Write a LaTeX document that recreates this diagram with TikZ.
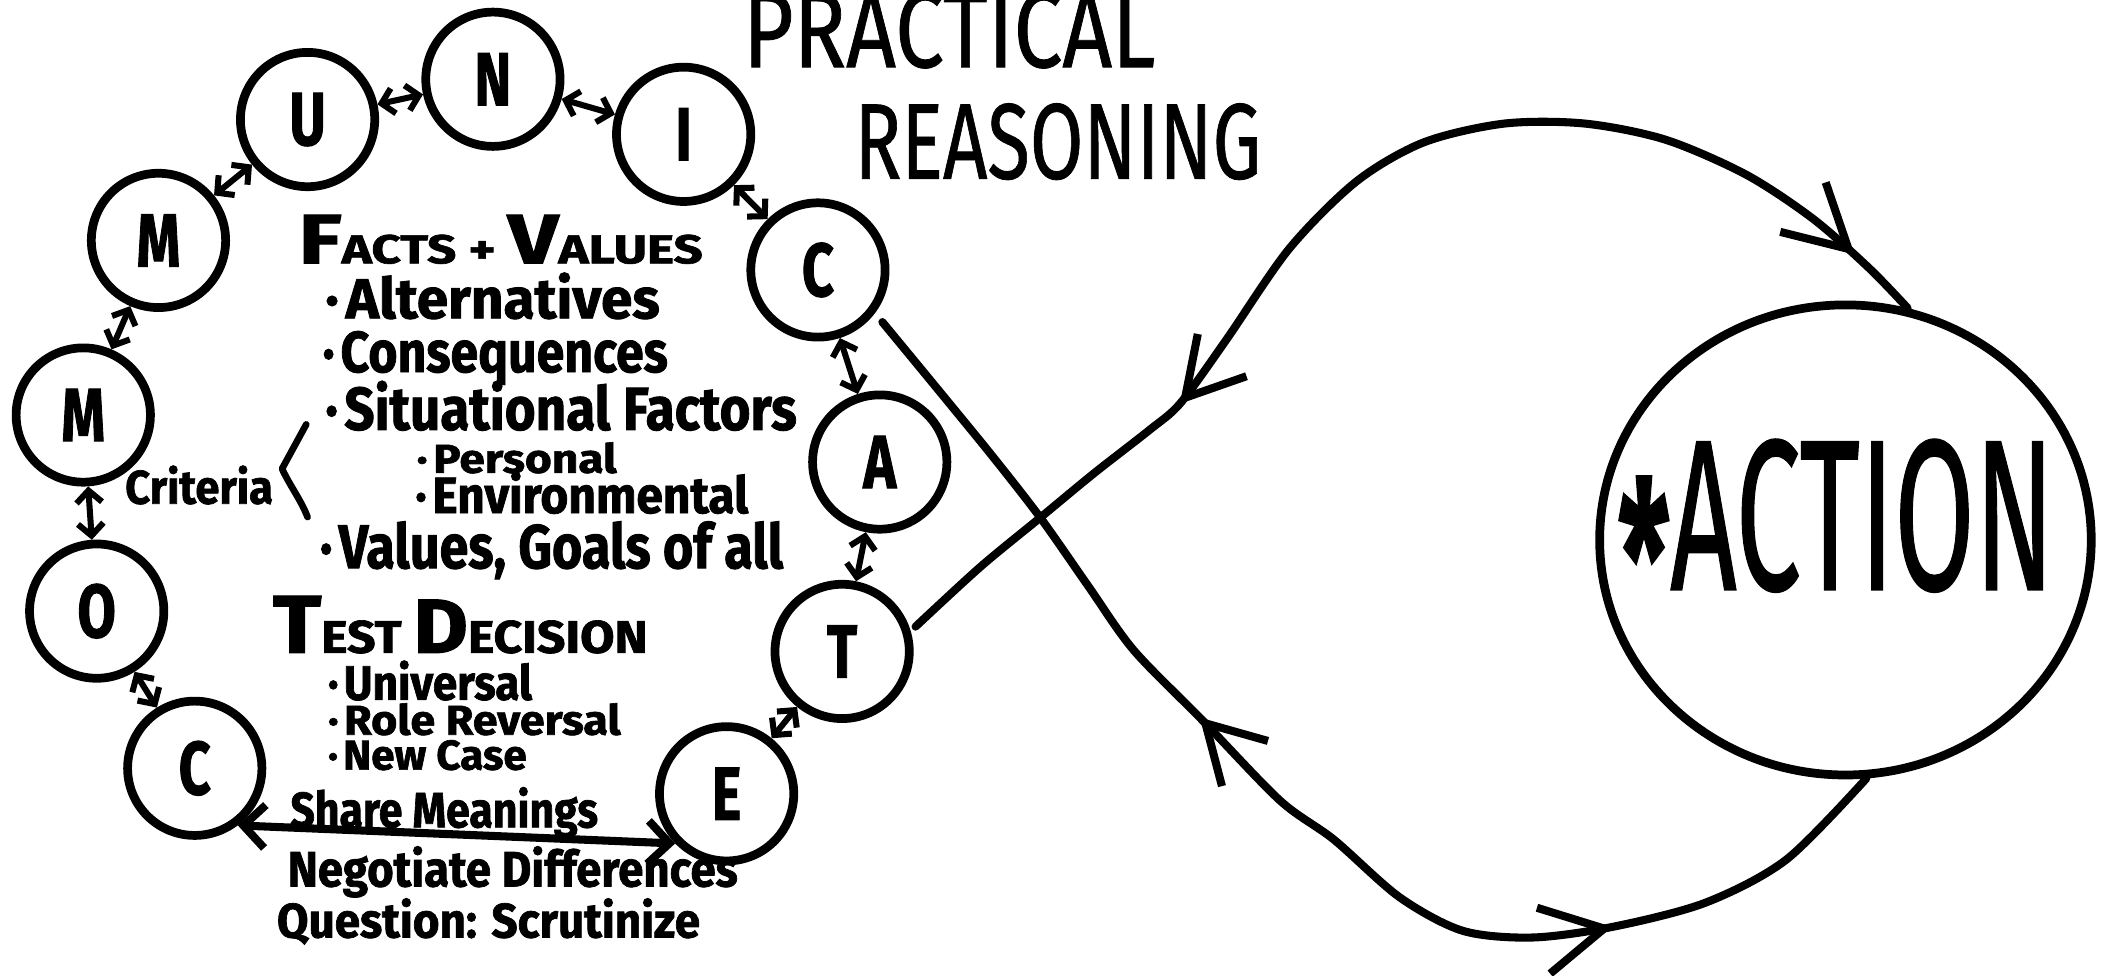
\documentclass[tikz,border=0pt]{standalone}
\usepackage{fontspec}
\setmainfont{Fira Sans}
\newfontfamily\hw{Fira Sans}[BoldFeatures={FakeBold=1.5}]
\newfontfamily\med{Fira Sans}[FakeBold=0.8]
\usepackage{graphicx}
\usetikzlibrary{arrows.meta,shapes.geometric,decorations.markings,calc}
\newcommand\tw[2]{\resizebox{#1}{\height}{#2}}
\newcommand\fs[1]{\fontsize{#1}{#1}\selectfont}
\newcommand\cl[1]{\scalebox{0.74}[1]{#1}}
\begin{document}
\begin{tikzpicture}[x=1pt,y=-1pt,
  ink/.style={line width=6pt, line cap=round, line join=round},
  circ/.style={circle, draw, line width=6.5pt, minimum size=100pt, inner sep=0pt, font=\hw\bfseries\fs{56}},
  link/.style={line width=4.5pt, line cap=round, {Straight Barb[length=9pt,width=19pt]}-{Straight Barb[length=9pt,width=19pt]}},
  txt/.style={anchor=base west, inner sep=0pt},
  loopmarks/.style n args={2}{postaction={decorate}, decoration={markings,
     mark=at position #1 with {\arrowreversed{Straight Barb[length=42pt,width=48pt]}},
     mark=at position #2 with {\arrow{Straight Barb[length=46pt,width=50pt]}}}}
]
\useasboundingbox (0,0) rectangle (1568,726);
% chain circles
\node[circ] (m1) at (62,309) {\cl{M}};
\node[circ] (m2) at (118,179) {\cl{M}};
\node[circ] (u) at (229,89) {\cl{U}};
\node[circ] (n) at (367,59) {\cl{N}};
\node[circ] (i) at (509,100) {\cl{I}};
\node[circ] (cR) at (609,201) {\cl{C}};
\node[circ] (a) at (655,344) {\cl{A}};
\node[circ] (t) at (627,485) {\cl{T}};
\node[circ] (e) at (541,591) {\cl{E}};
\node[circ] (cB) at (145,572) {\cl{C}};
\node[circ] (o) at (72,455) {\cl{O}};
% action
\node[ellipse, draw, line width=6.5pt, minimum width=366pt, minimum height=350pt, inner sep=0pt] (act) at (1374,402) {};
\node[inner sep=0pt] (acttxt) at (1367,400) {\tw{325pt}{\med\fs{160}\raisebox{-34pt}{\bfseries *}ACTION}};
% chain links
\draw[link] (m1) -- (m2);
\draw[link] (m2) -- (u);
\draw[link] (u) -- (n);
\draw[link] (n) -- (i);
\draw[link] (i) -- (cR);
\draw[link] (cR) -- (a);
\draw[link] (a) -- (t);
\draw[link] (t) -- (e);
\draw[link] (cB) -- (o);
\draw[link] (o) -- (m1);
\draw[line width=6pt, line cap=round, {Straight Barb[length=16pt,width=32pt]}-{Straight Barb[length=16pt,width=32pt]}] (cB.-53) -- (e.-136);
% titles
\node[txt] (ttl1) at (553,50) {\tw{307pt}{\med\fs{80}PRACTICAL}};
\node[txt] (ttl2) at (636,133) {\tw{303pt}{\med\fs{80}REASONING}};
% inner texts
\node[txt] (fv) at (222,196) {\tw{301pt}{\hw\bfseries\fs{30}{\fs{52}F}ACTS + {\fs{52}V}ALUES}};
\node[txt] (alt) at (242,237) {\tw{249pt}{\hw\bfseries\fs{42}·\hspace{0.12em}Alternatives}};
\node[txt] (cons) at (240,277) {\tw{257pt}{\hw\bfseries\fs{43}·\hspace{0.12em}Consequences}};
\node[txt] (sit) at (242,320) {\tw{351pt}{\hw\bfseries\fs{45}·\hspace{0.12em}Situational Factors}};
\node[txt] (pers) at (310,352) {\tw{149pt}{\hw\bfseries\fs{30}·\hspace{0.12em}Personal}};
\node[txt] (env) at (309,382) {\tw{248pt}{\hw\bfseries\fs{38}·\hspace{0.12em}Environmental}};
\node[txt] (crit) at (93,375) {\tw{110pt}{\hw\bfseries\fs{35}Criteria}};
\node[txt] (vg) at (238,423) {\tw{345pt}{\hw\bfseries\fs{46}·\hspace{0.12em}Values, Goals of all}};
\node[txt] (td) at (203,486) {\tw{279pt}{\hw\bfseries\fs{34}{\fs{61}T}EST {\fs{57}D}ECISION}};
\node[txt] (univ) at (244,521) {\tw{152pt}{\hw\bfseries\fs{36}·\hspace{0.12em}Universal}};
\node[txt] (role) at (244,547) {\tw{218pt}{\hw\bfseries\fs{31}·\hspace{0.12em}Role Reversal}};
\node[txt] (nc) at (244,573) {\tw{148pt}{\hw\bfseries\fs{31}·\hspace{0.12em}New Case}};
\node[txt] (sm) at (216,616) {\tw{229pt}{\hw\bfseries\fs{37}Share Meanings}};
\node[txt] (nd) at (214,660) {\tw{335pt}{\hw\bfseries\fs{37}Negotiate Differences}};
\node[txt] (qs) at (206,698) {\tw{315pt}{\hw\bfseries\fs{36}Question: Scrutinize}};
% criteria bracket
\draw[line width=5pt, line cap=round, line join=round] (228,316) -- (210,349) .. controls (216,362) and (224,372) .. (229,385);
% figure-eight loops
\draw[ink, loopmarks={0.39}{0.768}] plot[smooth, tension=0.5] coordinates {
  ($(cR.-38)+(6,6)$) (700,292) (740,341) (775,386) (810,436) (844,484) (895,536)
  (953,596) (993,625) (1042,668) (1089,693) (1141,698) (1201,690) (1270,672) (1330,640) (act.-85)};
\draw[ink, loopmarks={0.276}{0.94}] plot[smooth, tension=0.5] coordinates {
  ($(t.18)+(4,-2)$) (730,422) (775,385) (815,352) (856,320) (879,300) (913,253) (960,185)
  (1010,135) (1060,106) (1120,92) (1180,92) (1240,104) (1300,130) (1350,163) (1392,200) (act.75)};
\end{tikzpicture}
\end{document}
